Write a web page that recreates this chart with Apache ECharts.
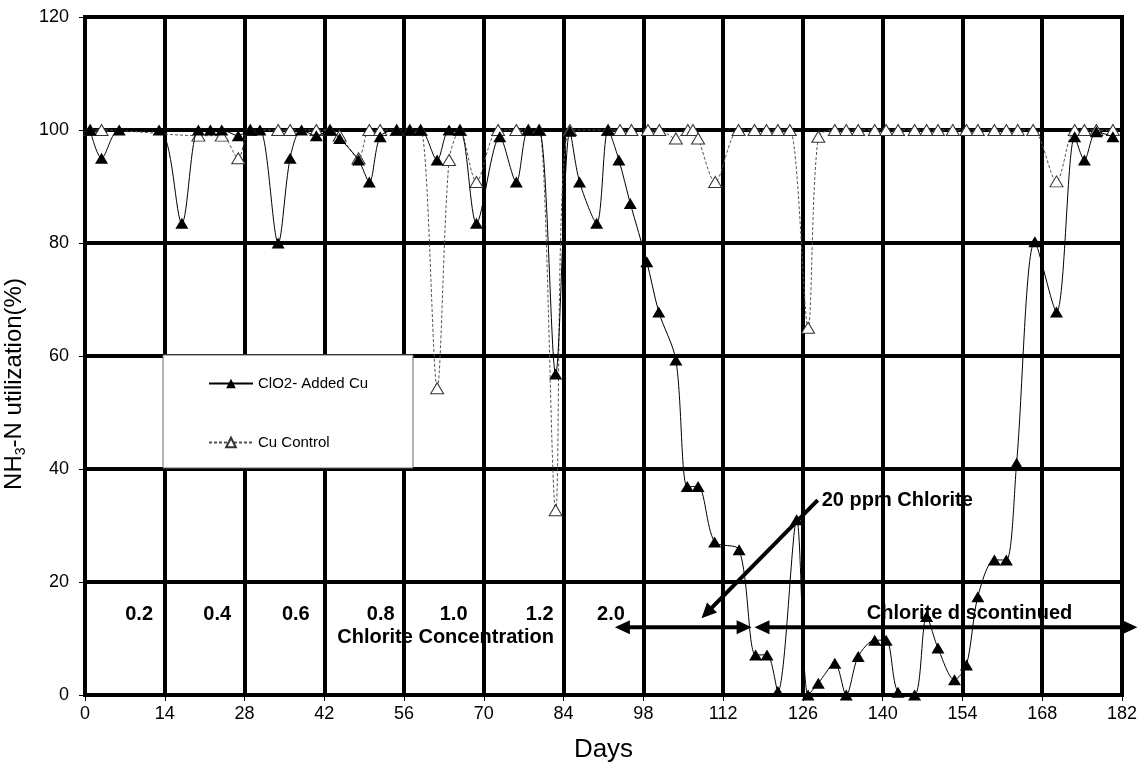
<!DOCTYPE html>
<html><head><meta charset="utf-8">
<script src="https://cdn.jsdelivr.net/npm/echarts@6/dist/echarts.min.js"></script>
<style>html,body{margin:0;padding:0;background:#fff}#c{width:1145px;height:765px}</style>
</head><body><div id="c"></div>
<script>
const FONT = '"Liberation Sans", Arial, sans-serif';
const xTickInterval = 14;
const yTickInterval = 20;

const clo2Days = [0.9, 2.9, 6, 13, 17, 19.9, 22, 24, 26.9, 29, 30.7, 33.9, 36, 38, 40.6, 43, 44.7, 48, 49.9, 51.8,
  54.7, 57, 58.9, 61.8, 63.9, 65.8, 68.7, 72.8, 75.7, 77.8, 79.7, 82.6, 85.1, 86.8, 89.8, 91.8, 93.7, 95.7, 98.6, 100.7,
  103.7, 105.7, 107.6, 110.5, 114.8, 117.7, 119.7, 121.6, 124.9, 126.9, 128.7, 131.6, 133.6, 135.7, 138.6, 140.6,
  142.7, 145.6, 147.7, 149.7, 152.6, 154.7, 156.7, 159.6, 161.7, 163.5, 166.7, 170.5, 173.7, 175.4, 177.5, 180.4];
const clo2Values = [100, 95, 100, 100, 83.5, 100, 100, 100, 99, 100, 100, 80, 95, 100, 99, 100, 98.5, 94.7, 90.8, 98.8,
  100, 100, 100, 94.7, 100, 100, 83.5, 98.8, 90.8, 100, 100, 56.8, 99.8, 90.8, 83.5, 100, 94.7, 87, 76.7, 67.8,
  59.3, 36.9, 36.9, 27.1, 25.7, 7.1, 7.1, 0.6, 31, 0, 2.1, 5.6, 0, 6.8, 9.7, 9.7,
  0.5, 0, 13.9, 8.3, 2.7, 5.3, 17.4, 23.9, 23.9, 41, 80.2, 67.8, 98.8, 94.7, 99.7, 98.8];

const controlDays = [0.9, 2.9, 19.9, 24, 26.9, 29, 33.9, 36, 40.6, 43, 44.7, 48, 49.9, 51.8, 54.7, 57, 58.9, 61.8,
  63.9, 65.8, 68.7, 72.5, 75.7, 77.8, 79.7, 82.6, 85.1, 91.8, 93.9, 95.9, 98.8, 100.8, 103.7, 105.8, 106.7, 107.6,
  110.6, 114.7, 117.5, 119.6, 121.6, 123.7, 126.9, 128.7, 131.6, 133.6, 135.7, 138.6, 140.6, 142.7, 145.6, 147.7,
  149.7, 152.3, 154.7, 156.7, 159.6, 161.7, 163.7, 166.4, 170.5, 173.7, 175.4, 177.5, 180.4];
const controlValues = [100, 100, 99, 99, 95, 100, 100, 100, 100, 100, 99, 95, 100, 100, 100, 100, 100, 54.3,
  94.7, 100, 90.8, 100, 100, 100, 100, 32.7, 100, 100, 100, 100, 100, 100, 98.5, 100, 100, 98.5,
  90.8, 100, 100, 100, 100, 100, 65, 98.8, 100, 100, 100, 100, 100, 100, 100, 100,
  100, 100, 100, 100, 100, 100, 100, 100, 90.9, 100, 100, 100, 100];

const concLabels = ['0.2', '0.4', '0.6', '0.8', '1.0', '1.2', '2.0'];
const concLabelDays = [9.5, 23.2, 37, 51.9, 64.7, 79.8, 92.3];
const concLabelLevel = 14.2;

const seriesNames = ['ClO2- Added Cu', 'Cu Control'];

const chart = echarts.init(document.getElementById('c'), null, {renderer: 'canvas'});

const option = {
  animation: false,
  backgroundColor: '#fff',
  grid: {left: 85, right: 23, top: 17, bottom: 70, containLabel: false, outerBoundsMode: 'none',
    show: true, borderColor: '#000', borderWidth: 4, backgroundColor: 'transparent'},
  legend: {
    data: seriesNames, orient: 'vertical', left: 208, top: 376, padding: 0,
    itemWidth: 44, itemHeight: 12, itemGap: 44, z: 10,
    textStyle: {fontSize: 15, fontFamily: FONT, color: '#000'}
  },
  xAxis: {
    type: 'value', min: 0, max: 182, interval: xTickInterval,
    name: 'Days', nameLocation: 'middle', nameGap: 42,
    nameTextStyle: {fontSize: 26, fontFamily: FONT, color: '#000'},
    axisLine: {show: true, onZero: false, lineStyle: {color: '#000', width: 4}},
    axisTick: {show: true, inside: false, length: 6, lineStyle: {color: '#000', width: 1}},
    axisLabel: {fontSize: 18, fontFamily: FONT, color: '#000', margin: 10},
    splitLine: {show: true, lineStyle: {color: '#000', width: 4}}
  },
  yAxis: {
    type: 'value', min: 0, max: 120, interval: yTickInterval,
    name: 'NH{sub|3}-N utilization(%)', nameLocation: 'middle', nameGap: 48,
    nameTextStyle: {fontSize: 24, fontFamily: FONT, color: '#000', padding: [0, 56, 0, 0],
      rich: {sub: {fontSize: 14, fontFamily: FONT, color: '#000', padding: [13, 0, 0, 0]}}},
    axisLine: {show: true, onZero: false, lineStyle: {color: '#000', width: 4}},
    axisTick: {show: true, inside: false, length: 6, lineStyle: {color: '#000', width: 1}},
    axisLabel: {fontSize: 18, fontFamily: FONT, color: '#000', margin: 16},
    splitLine: {show: true, lineStyle: {color: '#000', width: 4}}
  },
  series: [
    {
      name: seriesNames[0], type: 'line', z: 4,
      data: clo2Days.map((d, i) => [d, clo2Values[i]]),
      smooth: 0.3, symbol: 'triangle', symbolSize: [13, 11], showSymbol: true,
      lineStyle: {color: '#000', width: 1},
      itemStyle: {color: '#000', borderColor: '#000', borderWidth: 0}
    },
    {
      name: seriesNames[1], type: 'line', z: 3,
      data: controlDays.map((d, i) => [d, controlValues[i]]),
      smooth: 0.3, symbol: 'triangle', symbolSize: [13, 11], showSymbol: true,
      lineStyle: {color: '#555', width: 1, type: [3, 2]},
      itemStyle: {color: '#fff', borderColor: '#333', borderWidth: 1}
    }
  ]
};
chart.setOption(option);

function px(x, y) { return chart.convertToPixel({gridIndex: 0}, [x, y]); }
function arrowHead(tip, from, L, W) {
  const dx = tip[0] - from[0], dy = tip[1] - from[1];
  const len = Math.hypot(dx, dy); const ux = dx / len, uy = dy / len;
  const nx = -uy, ny = ux;
  const bx = tip[0] - L * ux, by = tip[1] - L * uy;
  return {type: 'polygon', z: 6, shape: {points: [tip, [bx + W * nx, by + W * ny], [bx - W * nx, by - W * ny]]},
    style: {fill: '#000'}};
}
function arrowLine(a, b, headA, headB) {
  const L = 15, W = 7;
  const els = [];
  const dx = b[0] - a[0], dy = b[1] - a[1];
  const len = Math.hypot(dx, dy); const ux = dx / len, uy = dy / len;
  const s = headA ? [a[0] + ux * L * 0.8, a[1] + uy * L * 0.8] : a;
  const e = headB ? [b[0] - ux * L * 0.8, b[1] - uy * L * 0.8] : b;
  els.push({type: 'line', z: 6, shape: {x1: s[0], y1: s[1], x2: e[0], y2: e[1]}, style: {stroke: '#000', lineWidth: 4}});
  if (headA) els.push(arrowHead(a, b, L, W));
  if (headB) els.push(arrowHead(b, a, L, W));
  return els;
}
function label(text, p, align, size) {
  return {type: 'text', z: 7, x: p[0], y: p[1],
    style: {text: text, font: 'bold ' + size + 'px ' + FONT, fill: '#000',
      textAlign: align, align: align, textVerticalAlign: 'middle', verticalAlign: 'middle'}};
}

const g = [];
g.push({type: 'rect', z: 8, shape: {x: 163, y: 355, width: 250, height: 113}, style: {fill: '#fff', stroke: '#666', lineWidth: 1}});
concLabels.forEach((t, i) => g.push(label(t, px(concLabelDays[i], concLabelLevel), 'center', 20)));
g.push(label('Chlorite Concentration', px(63.3, 10.1), 'center', 20));
g.push(label('20 ppm Chlorite', px(129.3, 34.5), 'left', 20));
g.push(label('Chlorite discontinued', px(137.2, 14.5), 'left', 20));
arrowLine(px(93, 12), px(117, 12), true, true).forEach(e => g.push(e));
arrowLine(px(117.5, 12), px(184.7, 12), true, true).forEach(e => g.push(e));
arrowLine(px(128.6, 34.5), px(108.2, 13.6), false, true).forEach(e => g.push(e));
chart.setOption({graphic: {elements: g}});
</script></body></html>
